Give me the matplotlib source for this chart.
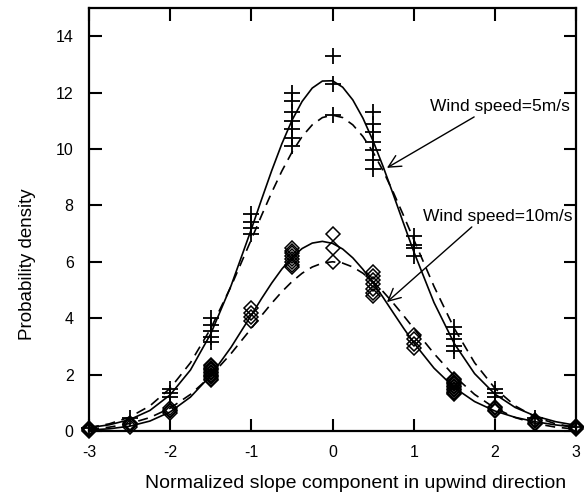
import numpy as np
import matplotlib
matplotlib.use("Agg")
from matplotlib import pyplot as plt

plt.rcParams['font.family'] = ['Liberation Sans', 'DejaVu Sans']
plt.rcParams['axes.unicode_minus'] = False

# curve abscissa (normalized upwind slope)
x_curve = [-3, -2.75, -2.5, -2.25, -2, -1.75, -1.5, -1.25, -1, -0.875, -0.75,
           -0.625, -0.5, -0.375, -0.25, -0.125, 0, 0.125, 0.25, 0.375, 0.5,
           0.625, 0.75, 0.875, 1, 1.25, 1.5, 1.75, 2, 2.25, 2.5, 2.75, 3]

# 5 m/s: skewed (solid) and gaussian (dashed) densities
gc_5 = [0.120, 0.220, 0.403, 0.729, 1.284, 2.164, 3.450, 5.150, 7.157, 8.204,
        9.226, 10.178, 11.013, 11.685, 12.159, 12.408, 12.418, 12.190, 11.738,
        11.090, 10.283, 9.362, 8.373, 7.361, 6.366, 4.555, 3.100, 2.035, 1.309,
        0.835, 0.529, 0.330, 0.201]
gauss_5 = [0.124, 0.255, 0.492, 0.891, 1.516, 2.422, 3.636, 5.128, 6.793, 7.638,
           8.454, 9.213, 9.884, 10.440, 10.855, 11.113, 11.200, 11.113, 10.855,
           10.440, 9.884, 9.213, 8.454, 7.638, 6.793, 5.128, 3.636, 2.422, 1.516,
           0.891, 0.492, 0.255, 0.124]

# 10 m/s
gc_10 = [0.036, 0.079, 0.171, 0.353, 0.678, 1.204, 1.972, 2.969, 4.112, 4.692,
         5.243, 5.740, 6.157, 6.470, 6.663, 6.724, 6.653, 6.453, 6.139, 5.731,
         5.252, 4.728, 4.185, 3.647, 3.132, 2.230, 1.538, 1.045, 0.711, 0.485,
         0.328, 0.216, 0.136]
gauss_10 = [0.067, 0.137, 0.264, 0.477, 0.812, 1.298, 1.948, 2.747, 3.639, 4.092,
            4.529, 4.936, 5.295, 5.593, 5.815, 5.953, 6.000, 5.953, 5.815, 5.593,
            5.295, 4.936, 4.529, 4.092, 3.639, 2.747, 1.948, 1.298, 0.812, 0.477,
            0.264, 0.137, 0.067]

# measured histogram values at each bin centre
bins = [-3, -2.5, -2, -1.5, -1, -0.5, 0, 0.5, 1, 1.5, 2, 2.5, 3]
meas_5 = [[0.1], [0.45], [1.5, 1.35, 1.2], [4.0, 3.75, 3.55, 3.35, 3.15],
          [7.7, 7.4, 7.2, 7.0], [12.0, 11.7, 11.3, 11.0, 10.7, 10.4, 10.1],
          [13.3, 12.3, 11.2], [11.3, 10.9, 10.6, 10.25, 9.95, 9.6, 9.3],
          [6.9, 6.6, 6.5, 6.2], [3.7, 3.45, 3.25, 3.0, 2.85],
          [1.5, 1.35, 1.2], [0.45], [0.15]]
meas_10 = [[0.12, 0.08, 0.04, 0.0], [0.28, 0.24, 0.2, 0.16],
           [0.8, 0.75, 0.7, 0.65],
           [2.35, 2.3, 2.25, 2.2, 2.15, 2.1, 2.05, 2.0, 1.95, 1.9, 1.85, 1.8],
           [4.35, 4.2, 4.05, 3.9], [6.5, 6.4, 6.3, 6.2, 6.1, 6.0, 5.9, 5.8],
           [7.0, 6.5, 6.0], [5.65, 5.5, 5.35, 5.2, 5.05, 4.9, 4.8],
           [3.4, 3.25, 3.1, 2.95],
           [1.85, 1.8, 1.75, 1.7, 1.65, 1.6, 1.55, 1.5, 1.45, 1.4, 1.35, 1.3],
           [0.85, 0.8, 0.75, 0.7], [0.38, 0.34, 0.3, 0.26],
           [0.18, 0.14, 0.1, 0.06]]

def flatten(xs, groups):
    px, py = [], []
    for x, g in zip(xs, groups):
        for v in g:
            px.append(x)
            py.append(v)
    return px, py

fig = plt.figure(figsize=(5.84, 4.96), dpi=100)
ax = fig.add_axes([0.1524, 0.131, 0.834, 0.853])

ax.plot(x_curve, gc_5, 'k-', lw=1.2)
ax.plot(x_curve, gauss_5, 'k--', lw=1.2, dashes=(6, 4))
ax.plot(x_curve, gc_10, 'k-', lw=1.2)
ax.plot(x_curve, gauss_10, 'k--', lw=1.2, dashes=(6, 4))

px, py = flatten(bins, meas_5)
ax.plot(px, py, 'k+', ms=11, mew=1.3, clip_on=False)
px, py = flatten(bins, meas_10)
ax.plot(px, py, 'kD', ms=7.5, mfc='none', mew=1.1, clip_on=False)

ax.annotate('Wind speed=5m/s', xy=(0.67, 9.33), xytext=(1.2, 11.5),
            fontsize=12.5, va='center', ha='left',
            arrowprops=dict(arrowstyle='->', lw=1, color='k',
                            mutation_scale=22, shrinkA=0, shrinkB=0,
                            relpos=(0.35, 0.0)))
ax.annotate('Wind speed=10m/s', xy=(0.67, 4.57), xytext=(1.11, 7.6),
            fontsize=12.5, va='center', ha='left',
            arrowprops=dict(arrowstyle='->', lw=1, color='k',
                            mutation_scale=22, shrinkA=0, shrinkB=0,
                            relpos=(0.35, 0.0)))

ax.set_xlim(-3, 3)
ax.set_ylim(0, 15)
ax.set_xticks(range(-3, 4))
ax.set_yticks(range(0, 15, 2))
ax.tick_params(direction='in', length=9, width=1.5, top=True, right=True,
               labelsize=11.5)
ax.tick_params(axis='x', pad=10)
ax.tick_params(axis='y', pad=11)
for s in ax.spines.values():
    s.set_linewidth(1.6)

ax.set_xlabel('Normalized slope component in upwind direction', fontsize=14,
              va='center')
ax.xaxis.set_label_coords(0.548, -0.123)
ax.set_ylabel('Probability density', fontsize=13.5, va='center')
ax.yaxis.set_label_coords(-0.127, 0.395)

fig.savefig('out.png', dpi=100)
